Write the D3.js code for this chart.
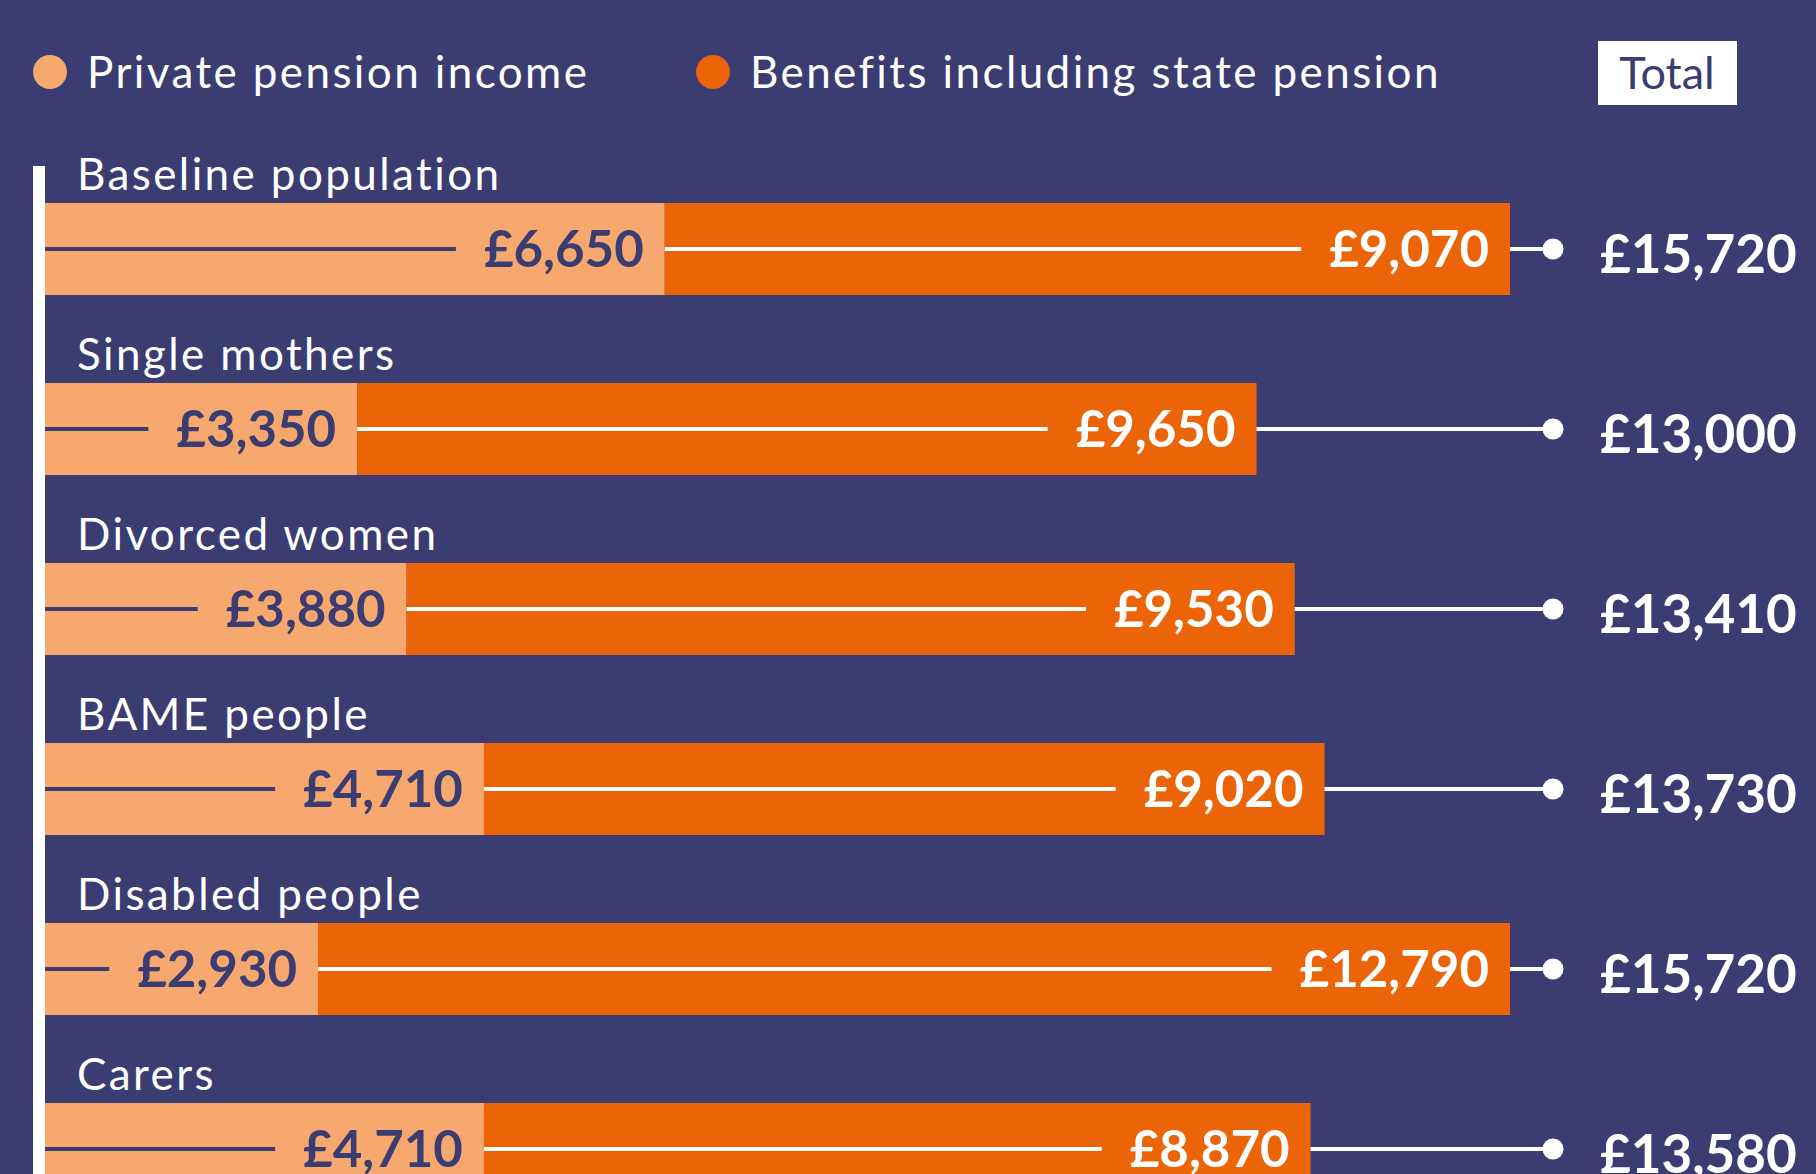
<!DOCTYPE html>
<html>
<head>
<meta charset="utf-8">
<script src="https://cdn.jsdelivr.net/npm/d3@7"></script>
<style>
  html, body { margin: 0; padding: 0; background: #3b3c72; overflow: hidden; }
  text { font-family: Lato, "Open Sans", sans-serif; }
</style>
</head>
<body>
<div id="target"></div>
<script>
// data
const categories = ["Baseline population", "Single mothers", "Divorced women", "BAME people", "Disabled people", "Carers"];
const privatePension = [6650, 3350, 3880, 4710, 2930, 4710];
const benefits = [9070, 9650, 9530, 9020, 12790, 8870];
const totals = [15720, 13000, 13410, 13730, 15720, 13580];
const legendLabels = ["Private pension income", "Benefits including state pension"];
const totalLabel = "Total";

var width = 1816,
  height = 1174,
  navy = "#3b3c72",
  light = "#f6a86e",
  dark = "#eb6508",
  dotX = 1553,
  totalX = 1600;

var svg = d3 // create the SVG
  .select("#target")
  .append("svg")
  .attr("width", width)
  .attr("height", height);

svg.append("rect")
  .attr("width", width)
  .attr("height", height)
  .attr("fill", navy);

const x = d3.scaleLinear() // x scale, £ to px
  .domain([0, 15720])
  .range([45, 1510]);

const y = d3.scaleBand() // rows
  .domain(categories)
  .range([203, 1195])
  .paddingInner(88 / 180)
  .paddingOuter(0);

const fmt = d => "£" + d3.format(",")(d);

// legend
const legendX = [50, 713];
const legendColors = [light, dark];
legendLabels.forEach((l, i) => {
  svg.append("circle")
    .attr("cx", legendX[i])
    .attr("cy", 72)
    .attr("r", 17)
    .attr("fill", legendColors[i]);
  svg.append("text")
    .attr("x", legendX[i] + 37)
    .attr("y", 88)
    .attr("fill", "#fff")
    .attr("font-size", 44)
    .attr("letter-spacing", 2.4)
    .text(l);
});

svg.append("rect") // Total box
  .attr("x", 1598)
  .attr("y", 41)
  .attr("width", 139)
  .attr("height", 64)
  .attr("fill", "#fff");

svg.append("text")
  .attr("x", 1667)
  .attr("y", 89)
  .attr("text-anchor", "middle")
  .attr("fill", navy)
  .attr("font-size", 45)
  .text(totalLabel);

svg.append("rect") // white vertical axis line
  .attr("x", 33)
  .attr("y", 166)
  .attr("width", 12)
  .attr("height", height - 166)
  .attr("fill", "#fff");

const rows = categories.map((c, i) => ({
  cat: c,
  priv: privatePension[i],
  ben: benefits[i],
  total: totals[i]
}));

var row = svg.selectAll("g.row")
  .data(rows)
  .enter()
  .append("g")
  .attr("class", "row");

row.append("text") // category label
  .attr("x", 77)
  .attr("y", d => y(d.cat) - 13)
  .attr("fill", "#fff")
  .attr("font-size", 44)
  .attr("letter-spacing", 2.4)
  .text(d => d.cat);

row.append("rect") // private pension
  .attr("x", x(0))
  .attr("y", d => y(d.cat))
  .attr("width", d => x(d.priv) - x(0))
  .attr("height", y.bandwidth())
  .attr("fill", light);

row.append("rect") // benefits
  .attr("x", d => x(d.priv))
  .attr("y", d => y(d.cat))
  .attr("width", d => x(d.priv + d.ben) - x(d.priv))
  .attr("height", y.bandwidth())
  .attr("fill", dark);

const mid = d => y(d.cat) + y.bandwidth() / 2;

row.each(function(d) {
  var g = d3.select(this);

  // value in the light segment
  var t1 = g.append("text")
    .attr("x", x(d.priv) - 21)
    .attr("y", mid(d))
    .attr("dy", "0.35em")
    .attr("text-anchor", "end")
    .attr("fill", navy)
    .attr("font-size", 51)
    .attr("font-weight", 700)
    .text(fmt(d.priv));
  var w1 = t1.node().getComputedTextLength();
  g.append("line")
    .attr("x1", x(0))
    .attr("x2", x(d.priv) - 21 - w1 - 28)
    .attr("y1", mid(d))
    .attr("y2", mid(d))
    .attr("stroke", navy)
    .attr("stroke-width", 4);

  // value in the dark segment
  var t2 = g.append("text")
    .attr("x", x(d.priv + d.ben) - 21)
    .attr("y", mid(d))
    .attr("dy", "0.35em")
    .attr("text-anchor", "end")
    .attr("fill", "#fff")
    .attr("font-size", 51)
    .attr("font-weight", 700)
    .text(fmt(d.ben));
  var w2 = t2.node().getComputedTextLength();
  g.append("line")
    .attr("x1", x(d.priv))
    .attr("x2", x(d.priv + d.ben) - 21 - w2 - 28)
    .attr("y1", mid(d))
    .attr("y2", mid(d))
    .attr("stroke", "#fff")
    .attr("stroke-width", 4);

  // connector to total
  g.append("line")
    .attr("x1", x(d.priv + d.ben))
    .attr("x2", dotX)
    .attr("y1", mid(d))
    .attr("y2", mid(d))
    .attr("stroke", "#fff")
    .attr("stroke-width", 4);
  g.append("circle")
    .attr("cx", dotX)
    .attr("cy", mid(d))
    .attr("r", 10.5)
    .attr("fill", "#fff");

  g.append("text")
    .attr("x", totalX)
    .attr("y", mid(d) + 24)
    .attr("fill", "#fff")
    .attr("font-size", 53)
    .attr("font-weight", 700)
    .text(fmt(d.total));
});
</script>
</body>
</html>
